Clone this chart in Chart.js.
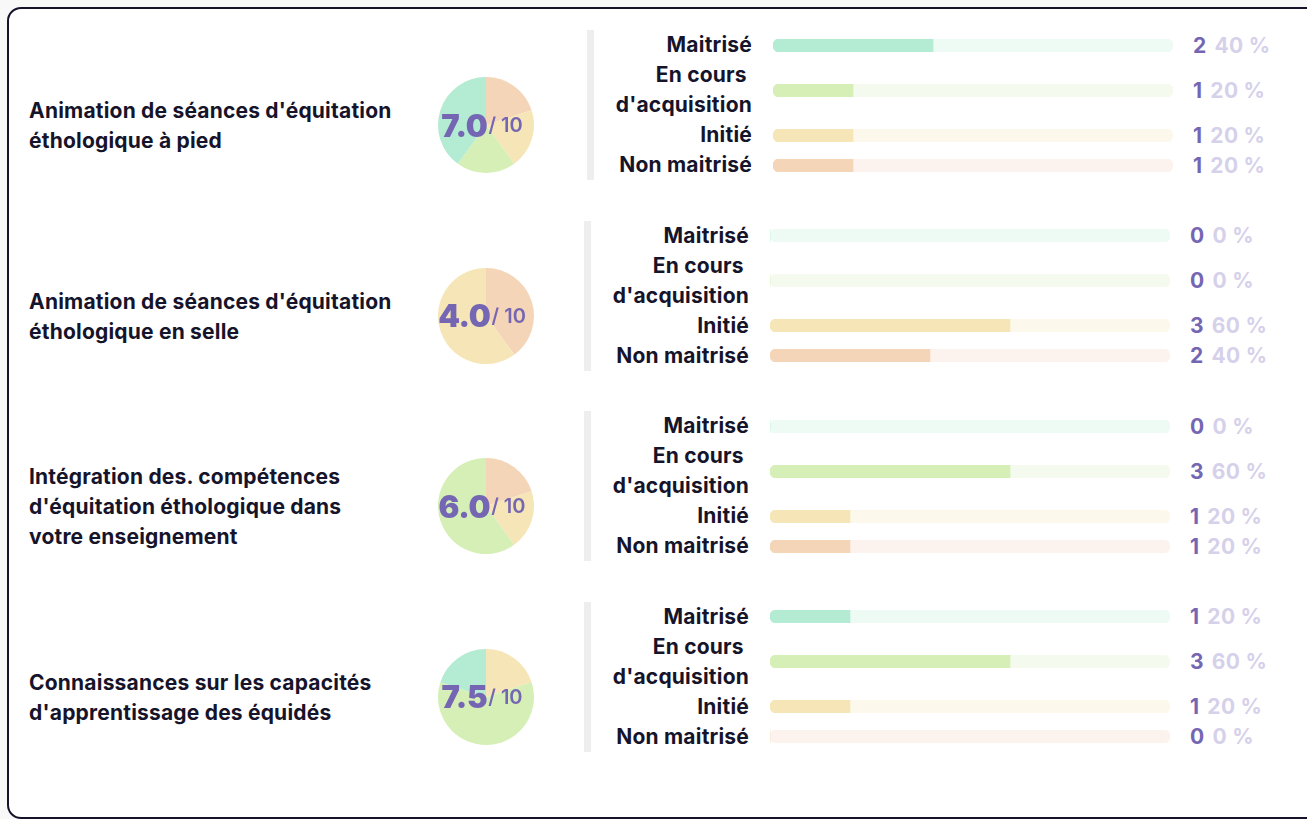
<!DOCTYPE html>
<html lang="fr">
<head>
<meta charset="UTF-8">
<title>Compétences</title>
<script src="https://cdn.jsdelivr.net/npm/chart.js"></script>
<style>
  body { margin: 0; background: #f8f8f8; font-family: Inter, Lato, sans-serif; color: #16142a; }
  .card { position: absolute; left: 7px; top: 7px; width: 1320px; height: 812px; border: 2px solid #15132a; border-radius: 14px; background: #fff; box-sizing: border-box; }
  .row { position: absolute; left: 0; height: 190px; width: 1307px; }
  .title { position: absolute; left: 20px; top: 1px; height: 190px; width: 368px; display: flex; align-items: center; font-size: 21px; letter-spacing: 0.2px; font-weight: 700; line-height: 30px; }
  .pie { position: absolute; left: 429px; top: 47px; width: 96px; height: 96px; }
  .score { position: absolute; left: 408px; top: 47px; width: 130px; height: 96px; display: flex; align-items: center; justify-content: center; color: #7566b3; font-weight: 700; pointer-events: none; }
  .score b { font-size: 31px; letter-spacing: -0.3px; }
  .score span { font-size: 20px; font-weight: 600; margin-left: 1px; }
  .sep { position: absolute; left: 575px; top: 0; width: 7px; height: 150px; background: #eeeeee; }
  .lines { position: absolute; left: 590px; top: 0; }
  .line { display: flex; align-items: center; }
  .lab { width: 150px; text-align: right; font-size: 21px; letter-spacing: 0.2px; font-weight: 700; line-height: 30px; white-space: break-spaces; }
  .bar { width: 400px; height: 13px; margin-left: 21px; position: relative; }
  .num { margin-left: 20px; font-size: 21px; letter-spacing: 0.3px; font-weight: 700; color: #7566b3; white-space: nowrap; }
  .num span { color: #d6d1ea; margin-left: 8px; font-weight: 700; }
</style>
</head>
<body>
<div class="card" id="card"></div>
<script>
// Données
const categories = ['Maitrisé', "En cours d'acquisition", 'Initié', 'Non maitrisé'];
const competences = [
  "Animation de séances d'équitation éthologique à pied",
  "Animation de séances d'équitation éthologique en selle",
  "Intégration des. compétences d'équitation éthologique dans votre enseignement",
  "Connaissances sur les capacités d'apprentissage des équidés"
];
const scores = [7.0, 4.0, 6.0, 7.5];
const counts = [
  [2, 1, 1, 1],
  [0, 0, 3, 2],
  [0, 3, 1, 1],
  [1, 3, 1, 0]
];
const fillColors = ['#b3ebd3', '#d5efb7', '#f6e6b7', '#f5d5b8'];
const trackColors = ['#eefaf4', '#f4faee', '#fcf9ec', '#fcf3ee'];

const card = document.getElementById('card');

competences.forEach((titre, r) => {
  const vals = counts[r];
  const total = vals.reduce((a, b) => a + b, 0);
  const shift = r === 0 ? 3 : 0;

  const row = document.createElement('div');
  row.className = 'row';
  row.style.top = (21 + r * 190.6) + 'px';
  card.appendChild(row);

  const t = document.createElement('div');
  t.className = 'title';
  t.textContent = titre;
  row.appendChild(t);

  // camembert
  const pieBox = document.createElement('div');
  pieBox.className = 'pie';
  const pieCanvas = document.createElement('canvas');
  pieBox.appendChild(pieCanvas);
  row.appendChild(pieBox);

  const sc = document.createElement('div');
  sc.className = 'score';
  sc.innerHTML = '<b>' + scores[r].toFixed(1) + '</b><span>/ 10</span>';
  row.appendChild(sc);

  new Chart(pieCanvas, {
    type: 'pie',
    data: {
      labels: categories.slice().reverse(),
      datasets: [{
        data: vals.slice().reverse(),
        backgroundColor: fillColors.slice().reverse(),
        borderWidth: 0
      }]
    },
    options: {
      responsive: true,
      maintainAspectRatio: false,
      animation: false,
      events: [],
      plugins: { legend: { display: false }, tooltip: { enabled: false } }
    }
  });

  const sep = document.createElement('div');
  sep.className = 'sep';
  sep.style.left = (575 + shift) + 'px';
  row.appendChild(sep);

  const lines = document.createElement('div');
  lines.className = 'lines';
  lines.style.left = (590 + shift) + 'px';
  row.appendChild(lines);

  categories.forEach((cat, i) => {
    const line = document.createElement('div');
    line.className = 'line';
    const lab = document.createElement('div');
    lab.className = 'lab';
    lab.textContent = cat;
    const barBox = document.createElement('div');
    barBox.className = 'bar';
    const c = document.createElement('canvas');
    barBox.appendChild(c);
    const num = document.createElement('div');
    num.className = 'num';
    const pct = Math.round(vals[i] / total * 100);
    num.innerHTML = vals[i] + '<span>' + pct + ' %</span>';
    line.appendChild(lab);
    line.appendChild(barBox);
    line.appendChild(num);
    lines.appendChild(line);

    new Chart(c, {
      type: 'bar',
      data: {
        labels: [cat],
        datasets: [{
          data: [vals[i]],
          backgroundColor: fillColors[i],
          borderRadius: { topLeft: 7, bottomLeft: 7, topRight: 0, bottomRight: 0 },
          borderSkipped: false,
          grouped: false,
          order: 0,
          barPercentage: 1,
          categoryPercentage: 1
        }, {
          data: [total],
          backgroundColor: trackColors[i],
          borderRadius: 7,
          borderSkipped: false,
          grouped: false,
          order: 1,
          barPercentage: 1,
          categoryPercentage: 1
        }]
      },
      options: {
        indexAxis: 'y',
        responsive: true,
        maintainAspectRatio: false,
        animation: false,
        events: [],
        layout: { padding: 0 },
        plugins: { legend: { display: false }, tooltip: { enabled: false } },
        scales: {
          x: { display: false, min: 0, max: total },
          y: { display: false }
        }
      }
    });
  });
});
</script>
</body>
</html>
